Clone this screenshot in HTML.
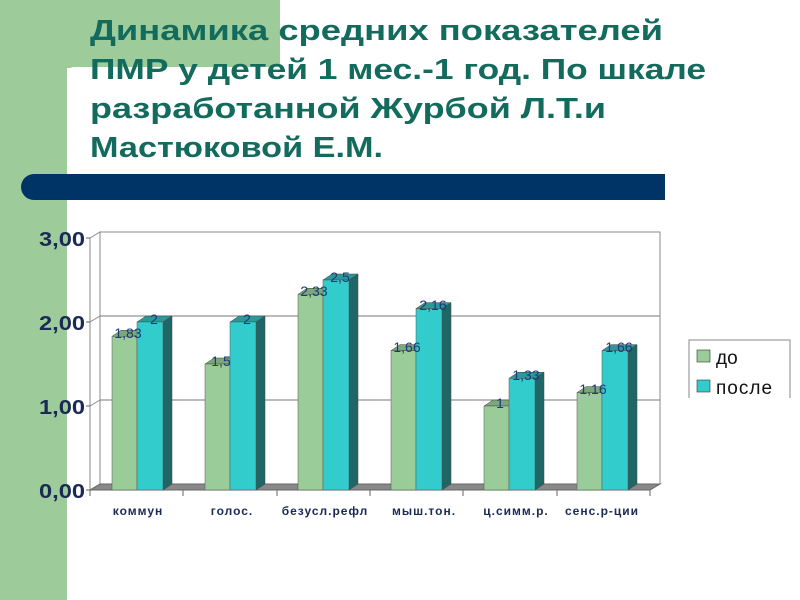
<!DOCTYPE html>
<html><head><meta charset="utf-8"><style>
body{margin:0;width:800px;height:600px;overflow:hidden;background:#fff;font-family:"Liberation Sans",sans-serif}
</style></head><body>
<svg width="800" height="600" xmlns="http://www.w3.org/2000/svg" style="position:absolute;left:0;top:0" font-family="Liberation Sans, sans-serif">
<rect x="0" y="0" width="280" height="68" fill="#9dcc9a"/>
<rect x="0" y="0" width="67" height="600" fill="#9dcc9a"/>
<path d="M67,600 V75 Q67,67 75,67 H280 V0 H800 V600 Z" fill="#fff"/>
<g font-weight="bold" font-size="29" fill="#136b5e" lengthAdjust="spacingAndGlyphs">
<text x="90" y="40" textLength="573" lengthAdjust="spacingAndGlyphs">Динамика средних показателей</text>
<text x="90" y="79" textLength="616" lengthAdjust="spacingAndGlyphs">ПМР у детей 1 мес.-1 год. По шкале</text>
<text x="90" y="118" textLength="516" lengthAdjust="spacingAndGlyphs">разработанной Журбой Л.Т.и</text>
<text x="90" y="157" textLength="293" lengthAdjust="spacingAndGlyphs">Мастюковой Е.М.</text>
</g>
<path d="M34,174 H665 V200 H34 A13,13 0 0 1 34,174 Z" fill="#003366"/>

<rect x="100" y="232" width="560" height="252" fill="#fff" stroke="#888"/>
<line x1="100" y1="316" x2="660" y2="316" stroke="#777"/>
<line x1="100" y1="400" x2="660" y2="400" stroke="#777"/>
<polygon points="90,238 100,232 100,484 90,490" fill="#fff" stroke="#888"/>
<polygon points="90,490 100,484 660,484 650,490" fill="#888" stroke="#666"/>
<line x1="90" y1="490" x2="650" y2="490" stroke="#666"/>
<g stroke="#666">
<line x1="90" y1="490" x2="90" y2="496"/><line x1="183" y1="490" x2="183" y2="496"/><line x1="277" y1="490" x2="277" y2="496"/><line x1="370" y1="490" x2="370" y2="496"/><line x1="463" y1="490" x2="463" y2="496"/><line x1="557" y1="490" x2="557" y2="496"/><line x1="650" y1="490" x2="650" y2="496"/>
<line x1="86" y1="490" x2="90" y2="490"/><line x1="86" y1="406" x2="90" y2="406"/><line x1="86" y1="322" x2="90" y2="322"/><line x1="86" y1="238" x2="90" y2="238"/>
</g>
<g stroke="#888"><line x1="90" y1="406" x2="100" y2="400"/><line x1="90" y1="322" x2="100" y2="316"/></g>
<g font-size="20" font-weight="bold" fill="#1a2a55" text-anchor="end">
<text x="85" y="498" textLength="46" lengthAdjust="spacingAndGlyphs">0,00</text>
<text x="85" y="414" textLength="46" lengthAdjust="spacingAndGlyphs">1,00</text>
<text x="85" y="330" textLength="46" lengthAdjust="spacingAndGlyphs">2,00</text>
<text x="85" y="246" textLength="46" lengthAdjust="spacingAndGlyphs">3,00</text>
</g>

<g stroke="#444" stroke-width="0.5">
<!-- group 0 -->
<polygon points="112,336.3 121,330.3 146,330.3 137,336.3" fill="#7aa87a"/>
<rect x="112" y="336.3" width="25" height="153.7" fill="#99cc99" stroke="#555"/>
<polygon points="163,322 172,316 172,484 163,490" fill="#1f6666"/>
<polygon points="137,322 146,316 172,316 163,322" fill="#2a9999"/>
<rect x="137" y="322" width="26" height="168" fill="#33cccc" stroke="#555"/>
<!-- group 1 -->
<polygon points="205,364 214,358 239,358 230,364" fill="#7aa87a"/>
<rect x="205" y="364" width="25" height="126" fill="#99cc99" stroke="#555"/>
<polygon points="256,322 265,316 265,484 256,490" fill="#1f6666"/>
<polygon points="230,322 239,316 265,316 256,322" fill="#2a9999"/>
<rect x="230" y="322" width="26" height="168" fill="#33cccc" stroke="#555"/>
<!-- group 2 -->
<polygon points="298,294.3 307,288.3 332,288.3 323,294.3" fill="#7aa87a"/>
<rect x="298" y="294.3" width="25" height="195.7" fill="#99cc99" stroke="#555"/>
<polygon points="349,280 358,274 358,484 349,490" fill="#1f6666"/>
<polygon points="323,280 332,274 358,274 349,280" fill="#2a9999"/>
<rect x="323" y="280" width="26" height="210" fill="#33cccc" stroke="#555"/>
<!-- group 3 -->
<polygon points="391,350.6 400,344.6 425,344.6 416,350.6" fill="#7aa87a"/>
<rect x="391" y="350.6" width="25" height="139.4" fill="#99cc99" stroke="#555"/>
<polygon points="442,308.6 451,302.6 451,484 442,490" fill="#1f6666"/>
<polygon points="416,308.6 425,302.6 451,302.6 442,308.6" fill="#2a9999"/>
<rect x="416" y="308.6" width="26" height="181.4" fill="#33cccc" stroke="#555"/>
<!-- group 4 -->
<polygon points="484,406 493,400 518,400 509,406" fill="#7aa87a"/>
<rect x="484" y="406" width="25" height="84" fill="#99cc99" stroke="#555"/>
<polygon points="535,378.3 544,372.3 544,484 535,490" fill="#1f6666"/>
<polygon points="509,378.3 518,372.3 544,372.3 535,378.3" fill="#2a9999"/>
<rect x="509" y="378.3" width="26" height="111.7" fill="#33cccc" stroke="#555"/>
<!-- group 5 -->
<polygon points="577,392.6 586,386.6 611,386.6 602,392.6" fill="#7aa87a"/>
<rect x="577" y="392.6" width="25" height="97.4" fill="#99cc99" stroke="#555"/>
<polygon points="628,350.6 637,344.6 637,484 628,490" fill="#1f6666"/>
<polygon points="602,350.6 611,344.6 637,344.6 628,350.6" fill="#2a9999"/>
<rect x="602" y="350.6" width="26" height="139.4" fill="#33cccc" stroke="#555"/>
</g>

<g font-size="14" fill="#1a3a7a" text-anchor="middle">
<text x="128" y="338">1,83</text><text x="154" y="324">2</text>
<text x="221" y="366">1,5</text><text x="247" y="324">2</text>
<text x="314" y="296">2,33</text><text x="340" y="282">2,5</text>
<text x="407" y="352">1,66</text><text x="433" y="310">2,16</text>
<text x="500" y="408">1</text><text x="526" y="380">1,33</text>
<text x="593" y="394">1,16</text><text x="619" y="352">1,66</text>
</g>

<g font-size="12" font-weight="bold" fill="#1a2a55" text-anchor="middle" letter-spacing="1">
<text x="138" y="515">коммун</text>
<text x="232" y="515">голос.</text>
<text x="325" y="515">безусл.рефл</text>
<text x="424" y="515">мыш.тон.</text>
<text x="516" y="515">ц.симм.р.</text>
<text x="602" y="515">сенс.р-ции</text>
</g>

<path d="M689,398 V340 H790 V398" fill="#fff" stroke="#888"/>
<rect x="697" y="350" width="13" height="12" fill="#99cc99" stroke="#333" stroke-width="0.6"/>
<text x="716" y="364" font-size="19" fill="#111">до</text>
<rect x="697" y="380" width="13" height="12" fill="#33cccc" stroke="#333" stroke-width="0.6"/>
<text x="716" y="394" font-size="19" fill="#111" letter-spacing="1">после</text>
</svg>
</body></html>
